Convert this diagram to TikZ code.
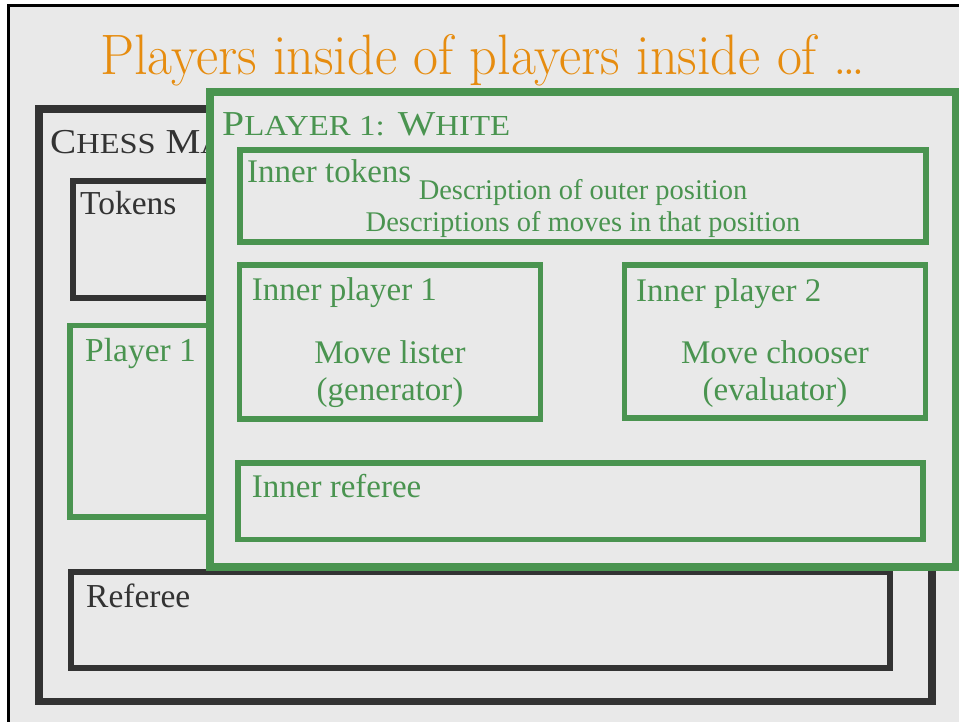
\documentclass[tikz,border=0pt]{standalone}
\usepackage{graphicx}
\usepackage{fontspec}
\newfontfamily\labfont{Liberation Serif}

\definecolor{slidebg}{RGB}{233,233,233}
\definecolor{boxgreen}{RGB}{74,148,80}
\definecolor{boxdark}{RGB}{51,51,51}
\definecolor{titleorange}{RGB}{230,140,15}

% hand-made small capitals: a full-size initial, the rest smaller
\newcommand{\mysc}[2]{#1{\fontsize{29}{30}\selectfont #2}}

\tikzset{
  frame/.style={draw=black, line width=3pt, fill=slidebg},
  darkbox/.style={draw=boxdark, fill=slidebg, line width=5.5pt,
    inner sep=0pt, outer sep=0pt, anchor=north west},
  greenbox/.style={draw=boxgreen, fill=slidebg, line width=5.5pt,
    inner sep=0pt, outer sep=0pt, anchor=north west},
  darklabel/.style={text=boxdark, inner sep=0pt, anchor=base west,
    font=\labfont\fontsize{33.5}{38}\selectfont},
  greenlabel/.style={text=boxgreen, inner sep=0pt, anchor=base west,
    font=\labfont\fontsize{33}{38}\selectfont},
  greenline/.style={text=boxgreen, inner sep=0pt, anchor=base,
    font=\labfont\fontsize{33}{38}\selectfont},
  descline/.style={text=boxgreen, inner sep=0pt, anchor=base,
    font=\labfont\fontsize{28.5}{32}\selectfont},
}

\begin{document}
\begin{tikzpicture}[x=1pt, y=-1pt]
  \useasboundingbox (0,0) rectangle (959,721);
  \fill[white] (0,0) rectangle (959,721);
  \clip (0,0) rectangle (959,721);

  % slide frame
  \draw[frame] (8.5,5.5) rectangle (1000,1000);

  % heading
  \node[text=titleorange, inner sep=0pt, anchor=base] (title) at (482.5,74)
    {\resizebox{765pt}{\height}{\fontsize{57}{60}\selectfont Players inside of players inside of \ldots}};

  % outer game: chess match, its heading cut off by the box in front
  \node[darkbox, line width=7.5pt, minimum width=893pt, minimum height=592.5pt] (chess) at (39,109) {};
  \begin{scope}
    \clip (40,110) rectangle (206,170);
    \node[darklabel, font=\labfont\fontsize{35}{38}\selectfont] (chesslabel) at (50,153)
      {\scalebox{1.12}[1]{\mysc{C}{HESS} \mysc{M}{A}}};
  \end{scope}

  \node[darkbox, minimum width=807pt, minimum height=117pt] (tokens) at (73,181) {};
  \node[darklabel] (tokenslabel) at (80,214) {Tokens};

  \node[greenbox, minimum width=810pt, minimum height=191.5pt] (player) at (70,325.5) {};
  \node[greenlabel, font=\labfont\fontsize{33.5}{38}\selectfont] (playerlabel) at (85,361.7) {Player 1};

  \node[darkbox, line width=6pt, minimum width=819pt, minimum height=96pt] (referee) at (71,572) {};
  \node[darklabel] (refereelabel) at (86,607.3) {Referee};

  % the player opened up
  \node[greenbox, line width=8pt, minimum width=746pt, minimum height=474.5pt] (white) at (210,92) {};
  \node[greenlabel, font=\labfont\fontsize{35}{38}\selectfont] (whitelabel) at (222,135)
    {\resizebox{288pt}{\height}{\mysc{P}{LAYER 1:} \mysc{W}{HITE}}};

  \node[greenbox, minimum width=686pt, minimum height=92pt] (itokens) at (240,150) {};
  \node[greenlabel] (itokenslabel) at (247,182.7) {Inner tokens};
  \node[descline] (descpos) at (583,199.3) {Description of outer position};
  \node[descline] (descmoves) at (583,231.7) {Descriptions of moves in that position};

  \node[greenbox, minimum width=301pt, minimum height=154pt] (iplayerone) at (239.5,265) {};
  \node[greenlabel] (iplayeronelabel) at (251.7,300.7) {Inner player 1};
  \node[greenline] (listerA) at (390,363) {Move lister};
  \node[greenline] (listerB) at (390,400) {(generator)};

  \node[greenbox, minimum width=301pt, minimum height=153pt] (iplayertwo) at (624.5,265) {};
  \node[greenlabel] (iplayertwolabel) at (636,301) {Inner player 2};
  \node[greenline] (chooserA) at (775,363) {Move chooser};
  \node[greenline] (chooserB) at (775,400) {(evaluator)};

  \node[greenbox, minimum width=685pt, minimum height=76.5pt] (ireferee) at (238,463) {};
  \node[greenlabel] (irefereelabel) at (251.7,497.7) {Inner referee};
\end{tikzpicture}
\end{document}
